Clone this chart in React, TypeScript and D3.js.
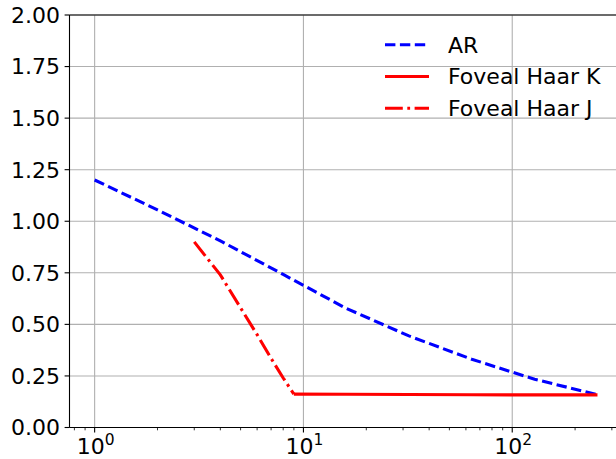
import * as d3 from "d3";

// AR curve
const arX = [1, 2, 4, 8, 16, 32, 64, 128, 256];
const arY = [1.2, 1.055, 0.905, 0.742, 0.578, 0.444, 0.331, 0.234, 0.159];

// Foveal Haar K (solid)
const kX = [9, 16, 32, 64, 128, 256];
const kY = [0.162, 0.161, 0.16, 0.159, 0.158, 0.158];

// Foveal Haar J (dash-dot)
const jX = [3, 4, 5, 6, 7, 8, 9];
const jY = [0.9, 0.74, 0.58, 0.45, 0.335, 0.24, 0.162];

const yTicks = [0, 0.25, 0.5, 0.75, 1.0, 1.25, 1.5, 1.75, 2.0];
const xMajor = [1, 10, 100];
const xMajorExp = ["0", "1", "2"];

const legendItems = [
  { label: "AR", color: "#0000ff", dash: "10.4,4.5" },
  { label: "Foveal Haar K", color: "#ff0000", dash: "" },
  { label: "Foveal Haar J", color: "#ff0000", dash: "17.8,4.5,2.8,4.5" },
];

const W = 616;
const H = 459;
const left = 69.5;
const right = 622.6;
const top = 15;
const bottom = 427.5;
const font = "DejaVu Sans";
const fs = 22;
const lw = 3.1;

export default function App() {
  const x = d3
    .scaleLog()
    .domain([Math.pow(10, -0.1204), Math.pow(10, 2.5286)])
    .range([left, right]);
  const y = d3.scaleLinear().domain([0, 2]).range([bottom, top]);

  const line = d3
    .line<[number, number]>()
    .x((d) => x(d[0]))
    .y((d) => y(d[1]));

  const minor: number[] = [];
  for (const dec of [0.1, 1, 10, 100]) {
    for (let m = 2; m <= 9; m++) {
      const v = m * dec;
      if (v >= x.domain()[0] && v <= x.domain()[1]) minor.push(v);
    }
  }

  const zip = (a: number[], b: number[]) =>
    a.map((v, i) => [v, b[i]] as [number, number]);

  return (
    <svg
      width={W}
      height={H}
      style={{ position: "absolute", left: 0, top: 0, background: "#fff" }}
      fontFamily={font}
    >
      <defs>
        <clipPath id="plot">
          <rect x={left} y={top} width={right - left} height={bottom - top} />
        </clipPath>
      </defs>

      {/* grid */}
      {yTicks.map((t) => (
        <line
          key={"gy" + t}
          x1={left}
          x2={right}
          y1={y(t)}
          y2={y(t)}
          stroke="#b0b0b0"
          strokeWidth={1.1}
        />
      ))}
      {xMajor.map((t) => (
        <line
          key={"gx" + t}
          x1={x(t)}
          x2={x(t)}
          y1={top}
          y2={bottom}
          stroke="#b0b0b0"
          strokeWidth={1.1}
        />
      ))}

      {/* series */}
      <g clipPath="url(#plot)" fill="none" strokeWidth={lw}>
        <path
          d={line(zip(arX, arY)) || ""}
          stroke="#0000ff"
          strokeDasharray="10.4,4.5"
        />
        <path d={line(zip(kX, kY)) || ""} stroke="#ff0000" />
        <path
          d={line(zip(jX, jY)) || ""}
          stroke="#ff0000"
          strokeDasharray="17.8,4.5,2.8,4.5"
        />
      </g>

      {/* spines */}
      <line x1={left} x2={left} y1={top} y2={bottom} stroke="#000" strokeWidth={1.1} />
      <line x1={left} x2={right} y1={bottom} y2={bottom} stroke="#000" strokeWidth={1.1} />
      <line x1={left} x2={right} y1={top} y2={top} stroke="#000" strokeWidth={1.1} />
      <line x1={right} x2={right} y1={top} y2={bottom} stroke="#000" strokeWidth={1.1} />

      {/* y axis */}
      {yTicks.map((t) => (
        <g key={"ty" + t}>
          <line x1={left - 4.9} x2={left} y1={y(t)} y2={y(t)} stroke="#000" strokeWidth={1.1} />
          <text
            x={left - 9.5}
            y={y(t)}
            dy="0.36em"
            textAnchor="end"
            fontSize={fs}
            fill="#000"
          >
            {t.toFixed(2)}
          </text>
        </g>
      ))}

      {/* x axis */}
      {minor.map((t) => (
        <line
          key={"mx" + t}
          x1={x(t)}
          x2={x(t)}
          y1={bottom}
          y2={bottom + 2.8}
          stroke="#000"
          strokeWidth={0.8}
        />
      ))}
      {xMajor.map((t, i) => (
        <g key={"tx" + t}>
          <line x1={x(t)} x2={x(t)} y1={bottom} y2={bottom + 4.9} stroke="#000" strokeWidth={1.1} />
          <text x={x(t) + 1} y={bottom + 26.5} textAnchor="middle" fontSize={fs} fill="#000">
            10
            <tspan fontSize={15.5} dy={-9}>
              {xMajorExp[i]}
            </tspan>
          </text>
        </g>
      ))}

      {/* legend */}
      {legendItems.map((it, i) => {
        const ly = 44.7 + i * 31.8;
        return (
          <g key={it.label}>
            <line
              x1={385}
              x2={429}
              y1={ly}
              y2={ly}
              stroke={it.color}
              strokeWidth={lw}
              strokeDasharray={it.dash}
            />
            <text x={448} y={ly} dy="0.36em" fontSize={fs} fill="#000">
              {it.label}
            </text>
          </g>
        );
      })}
    </svg>
  );
}
